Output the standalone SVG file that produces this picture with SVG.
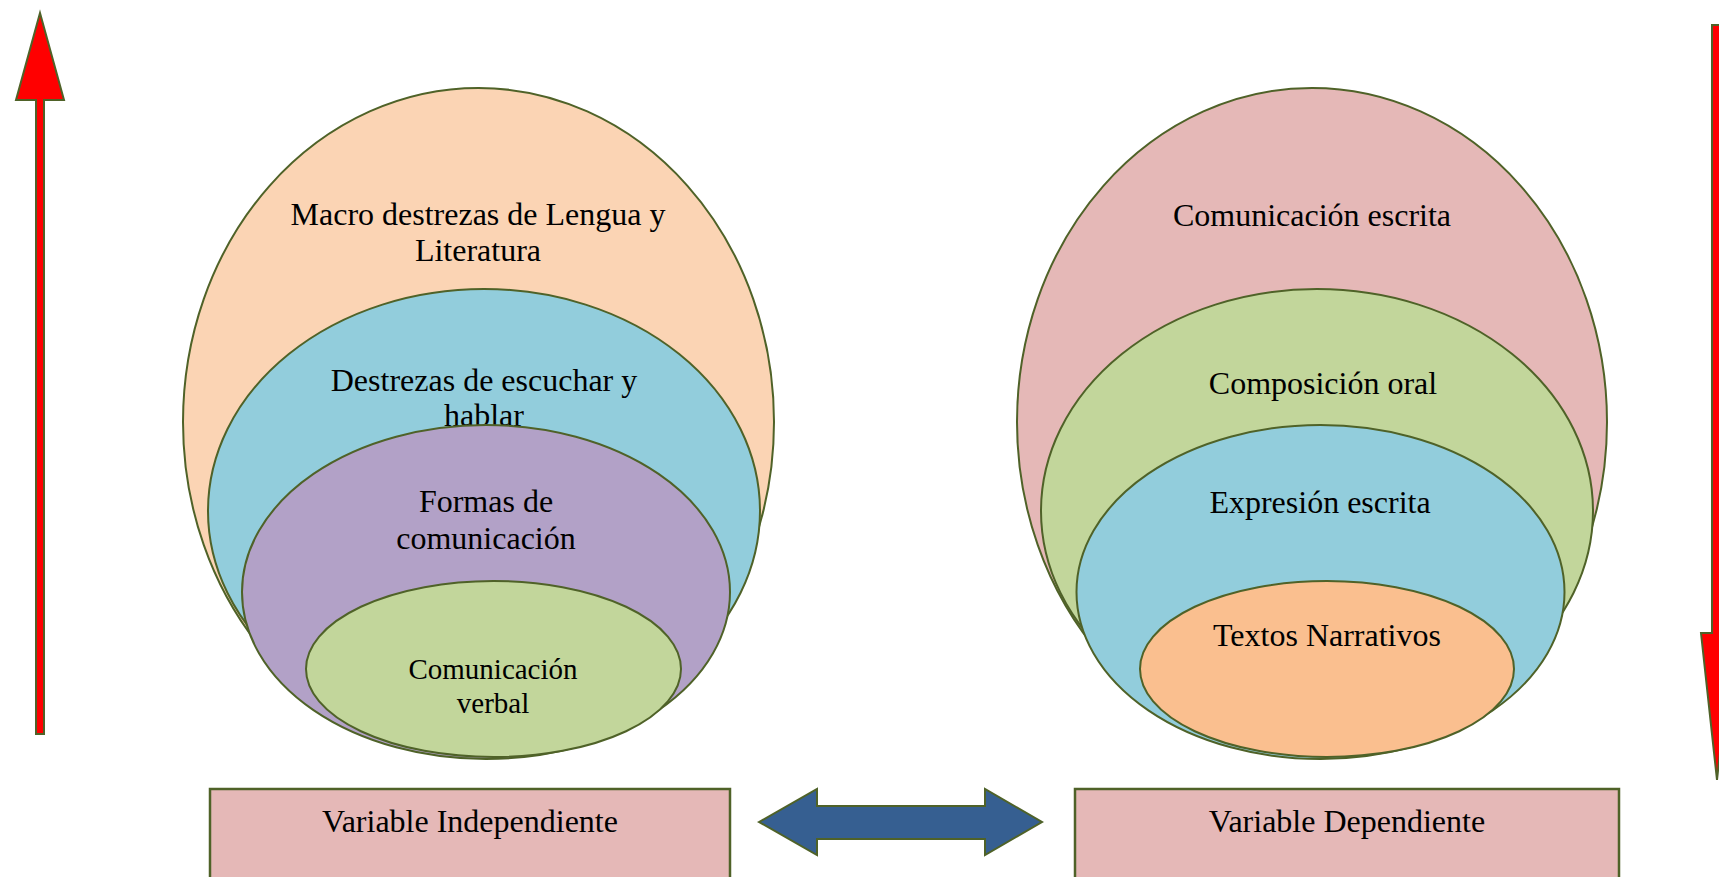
<svg xmlns="http://www.w3.org/2000/svg" width="1719" height="877" viewBox="0 0 1719 877">
<style>
.o{stroke:#4F6228;stroke-width:2}
.t{font-family:"Liberation Serif","Times New Roman",serif;font-size:32px;fill:#000;text-anchor:middle}
.s{font-size:29px}
.box{fill:#E5B8B7;stroke:#4F6228;stroke-width:2.5}
</style>
<rect width="1719" height="877" fill="#fff"/>
<g id="left-set">
  <g id="macro"><ellipse class="o" cx="478.5" cy="422" rx="295.5" ry="334" fill="#FBD4B4"/>
    <text class="t" x="478" y="225">Macro destrezas de Lengua y</text>
    <text class="t" x="478" y="261">Literatura</text></g>
  <g id="escuchar"><ellipse class="o" cx="484" cy="511" rx="276" ry="222" fill="#92CDDC"/>
    <text class="t" x="484" y="391">Destrezas de escuchar y</text>
    <text class="t" x="484" y="426">hablar</text></g>
  <g id="formas"><ellipse class="o" cx="486" cy="592" rx="244" ry="167" fill="#B2A1C7"/>
    <text class="t" x="486" y="512">Formas de</text>
    <text class="t" x="486" y="549">comunicación</text></g>
  <g id="verbal"><ellipse class="o" cx="493.5" cy="669" rx="187.5" ry="88" fill="#C2D69B"/>
    <text class="t s" x="493" y="679">Comunicación</text>
    <text class="t s" x="493" y="713">verbal</text></g>
</g>
<g id="right-set">
  <g id="escrita"><ellipse class="o" cx="1312" cy="422" rx="295" ry="334" fill="#E5B8B7"/>
    <text class="t" x="1312" y="226">Comunicación escrita</text></g>
  <g id="oral"><ellipse class="o" cx="1317" cy="511" rx="276" ry="222" fill="#C2D69B"/>
    <text class="t" x="1323" y="394">Composición oral</text></g>
  <g id="expresion"><ellipse class="o" cx="1320.5" cy="592" rx="244" ry="167" fill="#92CDDC"/>
    <text class="t" x="1320" y="513">Expresión escrita</text></g>
  <g id="narrativos"><ellipse class="o" cx="1327" cy="669" rx="187" ry="88" fill="#FABF8F"/>
    <text class="t" x="1327" y="646">Textos Narrativos</text></g>
</g>
<g id="box-independiente">
  <rect class="box" x="210" y="789" width="520" height="110"/>
  <text class="t" x="470" y="832">Variable Independiente</text>
</g>
<g id="box-dependiente">
  <rect class="box" x="1075" y="789" width="544" height="110"/>
  <text class="t" x="1347" y="832">Variable Dependiente</text>
</g>
<g id="connectors">
  <polygon class="o" fill="#FF0000" points="40,13 64,100 44,100 44,734 36,734 36,100 16,100"/>
  <polygon class="o" fill="#FF0000" points="1712,25 1722,25 1722,633 1733,633 1717,780 1701,633 1712,633"/>
  <polygon fill="#365F91" stroke="#4F6228" stroke-width="2" points="759,822 817,789 817,806 985,806 985,789 1042,822 985,855 985,839 817,839 817,855"/>
</g>
</svg>
